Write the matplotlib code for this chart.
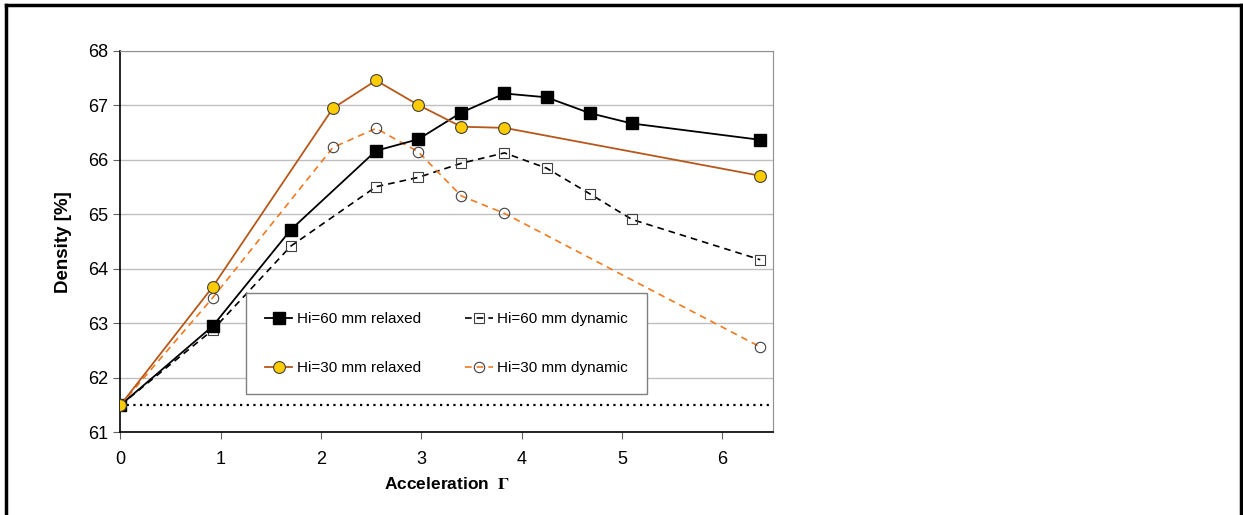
import matplotlib
matplotlib.use("Agg")
import matplotlib.pyplot as plt
from matplotlib.lines import Line2D

plt.rcParams['font.family'] = ['Liberation Sans', 'DejaVu Sans']
plt.rcParams['mathtext.fontset'] = 'stix'

# data
x60 = [0, 0.92, 1.70, 2.55, 2.97, 3.40, 3.83, 4.25, 4.68, 5.10, 6.38]
relaxed60 = [61.5, 62.95, 64.72, 66.17, 66.38, 66.87, 67.22, 67.15, 66.86, 66.67, 66.37]
dynamic60 = [61.5, 62.88, 64.42, 65.51, 65.68, 65.94, 66.13, 65.85, 65.38, 64.91, 64.17]
x30 = [0, 0.92, 2.12, 2.55, 2.97, 3.40, 3.83, 6.38]
relaxed30 = [61.5, 63.67, 66.95, 67.46, 67.01, 66.61, 66.59, 65.71]
dynamic30 = [61.5, 63.47, 66.23, 66.58, 66.15, 65.34, 65.02, 62.57]
random_packing = 61.5

fig = plt.figure(figsize=(12.43, 5.15), dpi=100)
ax = fig.add_axes([0.0968, 0.1602, 0.5253, 0.7408])

ax.axhline(random_packing, color='black', ls=(0, (1, 2)), lw=1.6, zorder=2)

h1, = ax.plot(x60, relaxed60, '-', color='black', lw=1.3, marker='s', ms=8.5,
              mfc='black', mec='black', label='Hi=60 mm relaxed', zorder=4)
h3, = ax.plot(x60, dynamic60, '--', color='black', lw=1.2, marker='s', ms=7.5,
              mfc='none', mec='#404040', mew=0.8, dashes=(4, 3),
              label='Hi=60 mm dynamic', zorder=3)
h2, = ax.plot(x30, relaxed30, '-', color='#B5581A', lw=1.3, marker='o', ms=8.5,
              mfc='#FFCC00', mec='#404040', mew=0.8, label='Hi=30 mm relaxed', zorder=5)
h4, = ax.plot(x30, dynamic30, '--', color='#F07A22', lw=1.2, marker='o', ms=7.5,
              mfc='none', mec='#404040', mew=0.8, dashes=(4, 3),
              label='Hi=30 mm dynamic', zorder=3)

ax.set_xlim(0, 6.51)
ax.set_ylim(61, 68)
ax.set_xticks(range(0, 7))
ax.set_yticks(range(61, 69))
ax.yaxis.grid(True, color='#C0C0C0', lw=1)
ax.set_axisbelow(True)
ax.tick_params(labelsize=13, length=5, color='#606060', direction='out')
ax.tick_params(axis='x', pad=8)
for s in ['top', 'right']:
    ax.spines[s].set_color('#909090')
for s in ['left', 'bottom']:
    ax.spines[s].set_color('black')
    ax.spines[s].set_linewidth(1.2)

ax.set_ylabel('Density [%]', fontsize=13.5, fontweight='bold', labelpad=12)
ax.set_xlabel(r'Acceleration  $\mathbf{\Gamma}$', fontsize=12.5, fontweight='bold', labelpad=6)

leg = ax.legend(handles=[h1, h2, h3, h4], ncol=2, fontsize=11, frameon=True,
                fancybox=False, edgecolor='#808080', framealpha=1, loc='center',
                bbox_to_anchor=(0.195, 0.104, 0.609, 0.257),
                borderaxespad=0, handlelength=1.8, handletextpad=0.3,
                labelspacing=2.3, columnspacing=2.9, borderpad=1.25)
leg.set_zorder(10)
leg.get_frame().set_linewidth(1)

# outer frame
for xs, ys in [([0.005, 0.005], [0, 0.99]), ([0.005, 0.9985], [0.99, 0.99]),
               ([0.9985, 0.9985], [0, 0.99])]:
    fig.add_artist(Line2D(xs, ys, color='black', lw=2.5, transform=fig.transFigure))

fig.savefig('out.png', dpi=100)
